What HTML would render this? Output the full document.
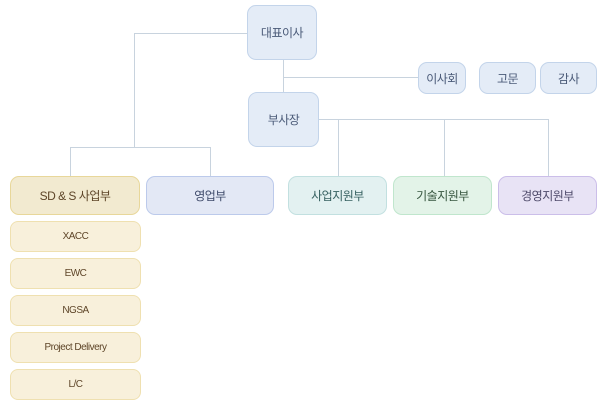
<!DOCTYPE html>
<html><head><meta charset="utf-8"><style>
html,body{margin:0;padding:0;background:#fff;width:604px;height:413px;overflow:hidden;position:relative}
.b{position:absolute;box-sizing:border-box;border:1px solid;border-radius:9px;display:flex;align-items:center;justify-content:center;font-family:"Liberation Sans","Noto Sans CJK KR",sans-serif;font-size:12px;letter-spacing:-0.5px}
.bl{background:#e4ecf7;border-color:#c3d4ea;color:#4a5a78}
.sd{background:#f2ead0;border-color:#e8d79a;color:#5e4528}
.sub{background:#f8f0db;border-color:#efe0b0;color:#5e4528;font-size:10px;border-radius:8px}
.l{position:absolute;background:#c8d3de}
</style></head><body>
<div class="l" style="left:134px;top:33px;width:113px;height:1px"></div>
<div class="l" style="left:134px;top:33px;width:1px;height:114px"></div>
<div class="l" style="left:70px;top:147px;width:141px;height:1px"></div>
<div class="l" style="left:70px;top:147px;width:1px;height:29px"></div>
<div class="l" style="left:210px;top:147px;width:1px;height:29px"></div>
<div class="l" style="left:283px;top:59px;width:1px;height:33px"></div>
<div class="l" style="left:283px;top:77px;width:135px;height:1px"></div>
<div class="l" style="left:318px;top:119px;width:231px;height:1px"></div>
<div class="l" style="left:338px;top:119px;width:1px;height:57px"></div>
<div class="l" style="left:444px;top:119px;width:1px;height:57px"></div>
<div class="l" style="left:548px;top:119px;width:1px;height:57px"></div>

<div class="b bl" style="left:247px;top:5px;width:70px;height:55px">대표이사</div>
<div class="b bl" style="left:248px;top:92px;width:71px;height:55px">부사장</div>
<div class="b bl" style="left:418px;top:62px;width:48px;height:32px">이사회</div>
<div class="b bl" style="left:479px;top:62px;width:57px;height:32px">고문</div>
<div class="b bl" style="left:540px;top:62px;width:57px;height:32px">감사</div>

<div class="b sd" style="left:10px;top:176px;width:130px;height:39px">SD &amp; S 사업부</div>
<div class="b" style="left:146px;top:176px;width:128px;height:39px;background:#e3e8f5;border-color:#bccaeb;color:#3e4a6a">영업부</div>
<div class="b" style="left:288px;top:176px;width:99px;height:39px;background:#e3f1f1;border-color:#c2e0e0;color:#356060">사업지원부</div>
<div class="b" style="left:393px;top:176px;width:99px;height:39px;background:#e3f3e8;border-color:#c0e6cd;color:#36553e">기술지원부</div>
<div class="b" style="left:498px;top:176px;width:99px;height:39px;background:#e8e3f5;border-color:#cbbee9;color:#4e4a6a">경영지원부</div>

<div class="b sub" style="left:10px;top:221px;width:131px;height:31px">XACC</div>
<div class="b sub" style="left:10px;top:258px;width:131px;height:31px">EWC</div>
<div class="b sub" style="left:10px;top:295px;width:131px;height:31px">NGSA</div>
<div class="b sub" style="left:10px;top:332px;width:131px;height:31px">Project Delivery</div>
<div class="b sub" style="left:10px;top:369px;width:131px;height:31px">L/C</div>
</body></html>
